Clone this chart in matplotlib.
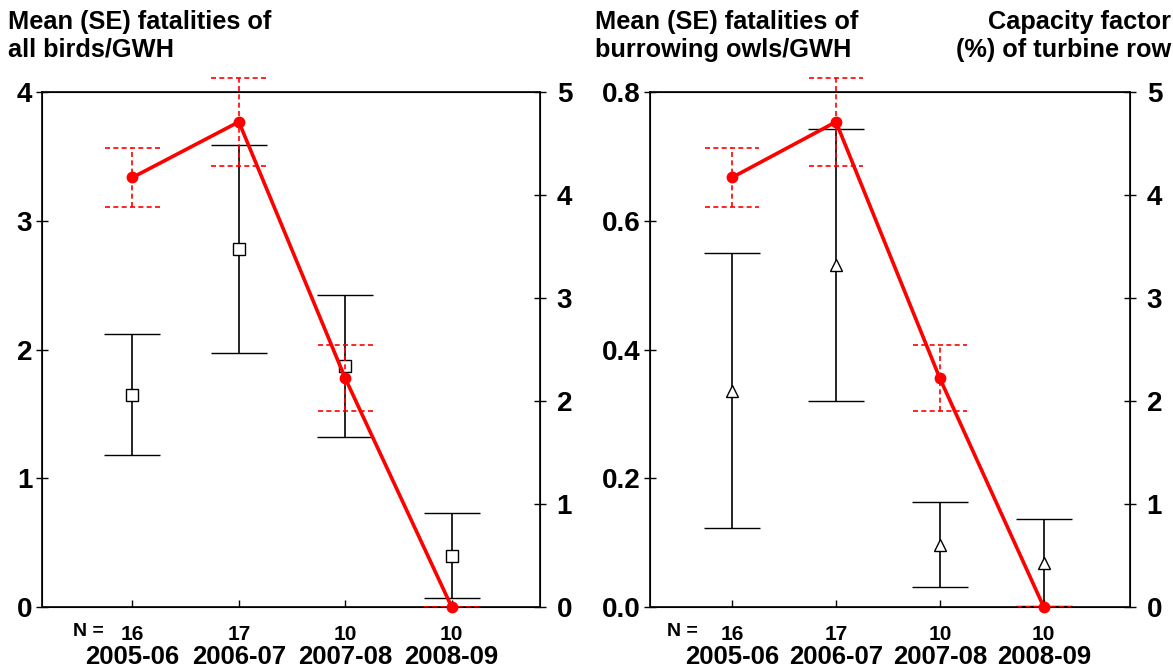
import numpy as np
import matplotlib
matplotlib.use('Agg')
import matplotlib.pyplot as plt

plt.rcParams['font.family'] = ['Liberation Sans', 'DejaVu Sans']
plt.rcParams['font.weight'] = 'bold'

# datos
years = ['2005-06', '2006-07', '2007-08', '2008-09']
n_counts = ['16', '17', '10', '10']

# capacidad (%) de la fila de turbinas, eje derecho
cap_mean = [4.17, 4.71, 2.22, 0.0]
cap_se = [0.29, 0.43, 0.32, 0.0]

# mortalidad de todas las aves / GWH
birds_mean = [1.65, 2.78, 1.87, 0.40]
birds_se = [0.47, 0.81, 0.55, 0.33]

# mortalidad de lechuzas de madriguera / GWH
owls_mean = [0.336, 0.531, 0.097, 0.069]
owls_se = [0.214, 0.211, 0.066, 0.068]

W, H = 1173, 670
fig = plt.figure(figsize=(W / 100, H / 100), dpi=100)


def panel(rect, mean, se, marker, ylim, yticks, yfmt, xlim, title, tx, nx):
    ax = fig.add_axes([rect[0] / W, 1 - rect[3] / H, (rect[2] - rect[0]) / W, (rect[3] - rect[1]) / H])
    x = np.arange(1, len(years) + 1)

    ax.errorbar(x, mean, yerr=se, fmt=marker, mfc='white', mec='black', mew=1.0, ms=8,
                ecolor='black', elinewidth=1.2, capsize=20, capthick=1.2, zorder=3)
    ax.set_xlim(*xlim)
    ax.set_ylim(*ylim)
    ax.set_yticks(yticks)
    ax.set_yticklabels([yfmt.format(v) for v in yticks])
    ax.set_xticks(x)
    ax.set_xticklabels(n_counts)
    ax.tick_params(axis='x', direction='in', length=5, width=1, pad=13, labelsize=15)
    ax.tick_params(axis='y', direction='inout', length=8, width=1, pad=3, labelsize=20)
    for s in ax.spines.values():
        s.set_linewidth(1.2)

    ax.text(nx, -0.047, 'N =', transform=ax.transAxes, ha='center', va='center', fontsize=14)
    for xi, yr in zip(x, years):
        ax.text(xi, -0.098, yr, transform=ax.get_xaxis_transform(), ha='center', va='center', fontsize=18.5)

    # eje derecho: factor de capacidad
    axr = ax.twinx()
    axr.set_ylim(0, 5)
    axr.set_yticks(range(6))
    axr.tick_params(axis='y', direction='inout', length=8, width=1, pad=8, labelsize=20)
    lo = np.array(cap_mean) - np.array(cap_se)
    hi = np.array(cap_mean) + np.array(cap_se)
    dash = (0, (3, 2))
    axr.vlines(x, lo, hi, colors='red', linestyles=dash, lw=1.2, clip_on=False)
    axr.hlines(lo, x - 0.26, x + 0.26, colors='red', linestyles=dash, lw=1.2, clip_on=False)
    axr.hlines(hi, x - 0.26, x + 0.26, colors='red', linestyles=dash, lw=1.2, clip_on=False)
    axr.plot(x, cap_mean, '-o', color='red', lw=2.6, ms=7.5, clip_on=False, zorder=5)

    fig.text(tx / W, 1 - 10 / H, title, ha='left', va='top', fontsize=18.3)
    return ax


panel((42, 92, 540, 607), birds_mean, birds_se, 's', (0, 4), [0, 1, 2, 3, 4], '{:.0f}',
      (0.15, 4.83), 'Mean (SE) fatalities of\nall birds/GWH', 8, 0.094)
panel((650, 92, 1130, 607), owls_mean, owls_se, '^', (0, 0.8), [0, 0.2, 0.4, 0.6, 0.8], '{:.1f}',
      (0.21, 4.83), 'Mean (SE) fatalities of\nburrowing owls/GWH', 595, 0.067)

fig.text(1171 / W, 1 - 10 / H, 'Capacity factor\n(%) of turbine row', ha='right', va='top',
         multialignment='right', fontsize=18.3)

fig.savefig('out.png', dpi=100)
